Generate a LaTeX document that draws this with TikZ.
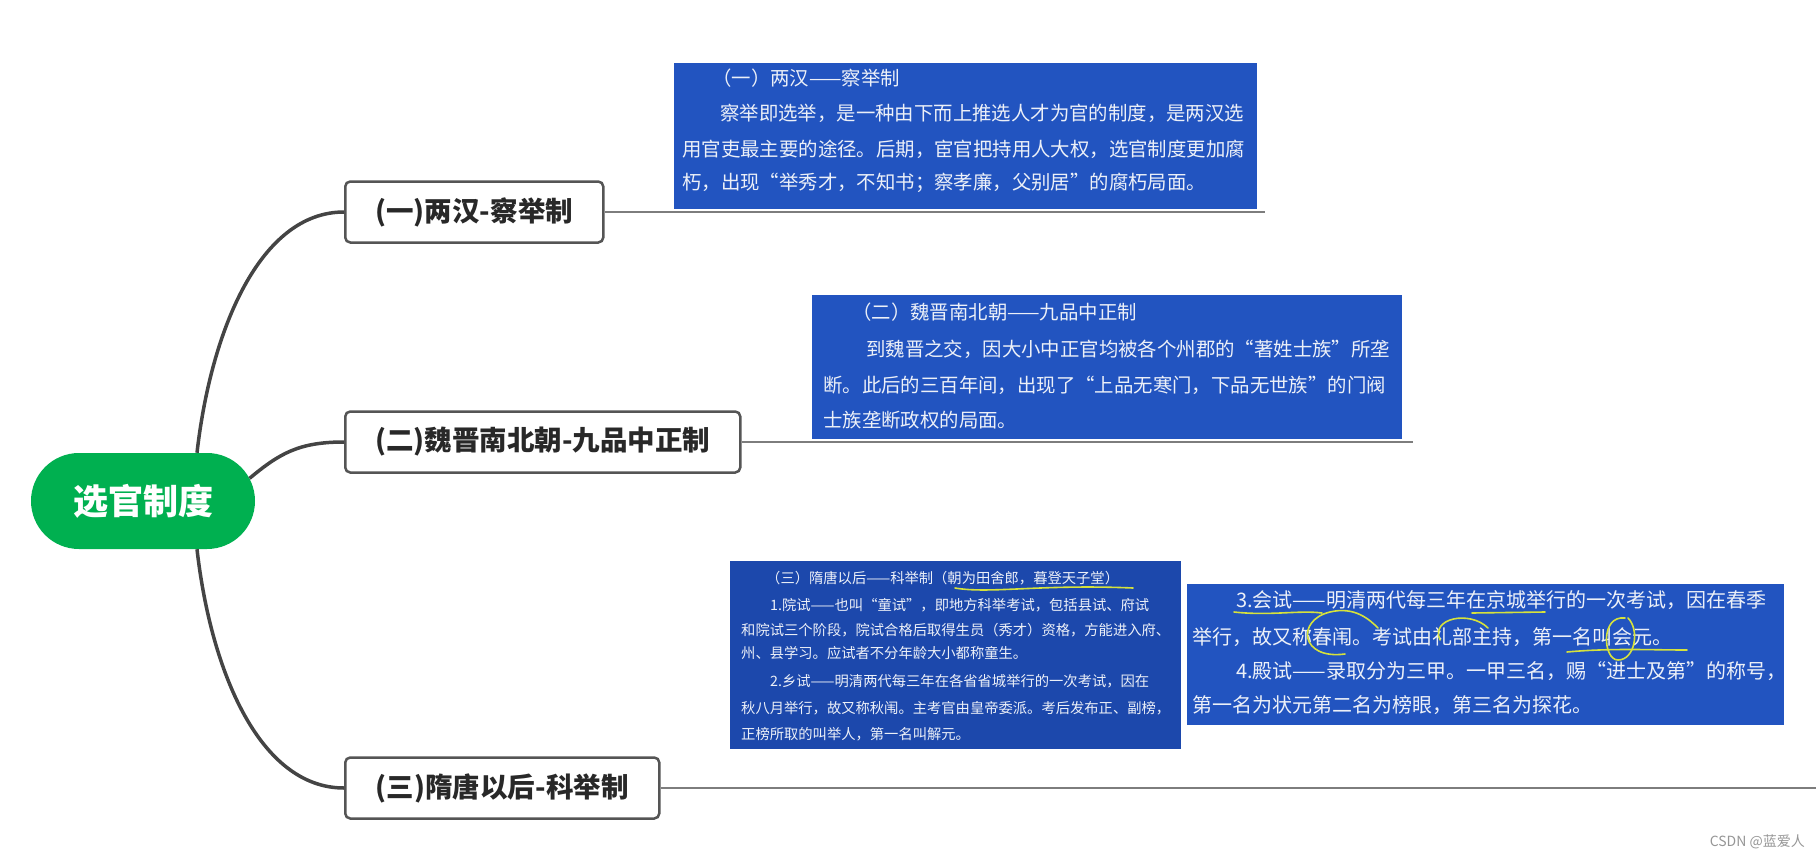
\documentclass[tikz,border=0pt]{standalone}
\usepackage{fontspec}
\setmainfont{Noto Sans CJK SC}
\usetikzlibrary{shapes.misc}

\definecolor{rootgreen}{RGB}{0,176,80}
\definecolor{linkgrey}{RGB}{68,68,68}
\definecolor{boxgrey}{RGB}{85,85,85}
\definecolor{textdark}{RGB}{40,40,40}
\definecolor{tailgrey}{RGB}{125,125,125}
\definecolor{shotblue}{RGB}{34,84,192}
\definecolor{shotdark}{RGB}{28,72,172}
\definecolor{shottext}{RGB}{236,240,248}
\definecolor{penyellow}{RGB}{214,226,60}
\definecolor{markgrey}{RGB}{150,150,150}

\tikzstyle{rootnode} = [
    rounded rectangle,
    fill=rootgreen,
    text=white,
    minimum width=224pt,
    minimum height=96pt,
    inner sep=0pt,
    font=\fontsize{35}{40}\selectfont\bfseries
]
\tikzstyle{topicbox} = [
    rectangle,
    rounded corners=5pt,
    draw=boxgrey,
    line width=2.5pt,
    fill=white,
    text=textdark,
    minimum height=61pt,
    inner sep=0pt,
    anchor=west,
    font=\fontsize{27.5}{32}\selectfont\bfseries
]
\tikzstyle{shot} = [
    rectangle,
    fill=shotblue,
    inner sep=0pt,
    anchor=north west
]
\tikzstyle{shotline} = [
    anchor=west,
    inner sep=0pt,
    text=shottext,
    font=\fontsize{19.4}{24}\selectfont
]
\tikzstyle{wideline} = [shotline, font=\fontsize{20}{24}\selectfont]
\tikzstyle{smallline} = [shotline, font=\fontsize{14.3}{18}\selectfont]
\tikzstyle{branch} = [line width=3.5pt, draw=linkgrey]
\tikzstyle{tail} = [line width=2pt, draw=tailgrey]
\tikzstyle{scribble} = [line width=1.6pt, draw=penyellow, line cap=round]

\begin{document}
\begin{tikzpicture}[x=1pt, y=-1pt]

\useasboundingbox (0,0) rectangle (1820,856);

\node (root) [rootnode] at (143,501) {选官制度};

\node (han) [topicbox, minimum width=258pt] at (344,212) {(一)两汉-察举制};
\node (wei) [topicbox, minimum width=395pt] at (344,442) {(二)魏晋南北朝-九品中正制};
\node (sui) [topicbox, minimum width=314pt] at (344,788) {(三)隋唐以后-科举制};

\draw [branch] ([xshift=54pt]root.north) .. controls +(14,-123) and +(-84,0) .. (han.west);
\draw [branch] (root.12) .. controls +(30,-25) and +(-45,0) .. (wei.west);
\draw [branch] ([xshift=54pt]root.south) .. controls +(14,123) and +(-84,0) .. (sui.west);

% lines running out under the screenshots
\coordinate (hanend) at (1265,212);
\coordinate (weiend) at (1413,442);
\coordinate (suiend) at (1816,788);
\draw [tail] (han.east) -- (hanend);
\draw [tail] (wei.east) -- (weiend);
\draw [tail] (sui.east) -- (suiend);

% screenshot 1
\node (shot1) [shot, minimum width=583pt, minimum height=146pt] at (674,63) {};
\node (han1) [shotline] at (712,78) {（一）两汉——察举制};
\node (han2) [shotline] at (720,113) {察举即选举，是一种由下而上推选人才为官的制度，是两汉选};
\node (han3) [shotline] at (682,149) {用官吏最主要的途径。后期，宦官把持用人大权，选官制度更加腐};
\node (han4) [shotline] at (682,183) {朽，出现“举秀才，不知书；察孝廉，父别居”的腐朽局面。};

% screenshot 2
\node (shot2) [shot, minimum width=590pt, minimum height=144pt] at (812,295) {};
\node (wei1) [shotline] at (852,312) {（二）魏晋南北朝——九品中正制};
\node (wei2) [shotline] at (866,349) {到魏晋之交，因大小中正官均被各个州郡的“著姓士族”所垄};
\node (wei3) [shotline] at (823,385) {断。此后的三百年间，出现了“上品无寒门，下品无世族”的门阀};
\node (wei4) [shotline] at (823,420) {士族垄断政权的局面。};

% screenshot 3
\node (shot3) [shot, fill=shotdark, minimum width=451pt, minimum height=188pt] at (730,561) {};
\node (sui1) [smallline] at (766,578) {（三）隋唐以后——科举制（朝为田舍郎，暮登天子堂）};
\node (sui2) [smallline] at (770,605) {1.院试——也叫“童试”，即地方科举考试，包括县试、府试};
\node (sui3) [smallline] at (741,630) {和院试三个阶段，院试合格后取得生员（秀才）资格，方能进入府、};
\node (sui4) [smallline] at (741,653) {州、县学习。应试者不分年龄大小都称童生。};
\node (sui5) [smallline] at (770,681) {2.乡试——明清两代每三年在各省省城举行的一次考试，因在};
\node (sui6) [smallline] at (741,708) {秋八月举行，故又称秋闱。主考官由皇帝委派。考后发布正、副榜，};
\node (sui7) [smallline] at (741,734) {正榜所取的叫举人，第一名叫解元。};
\draw [scribble] (955,588) .. controls (990,594) and (1040,584) .. (1133,588);

% screenshot 4
\node (shot4) [shot, minimum width=597pt, minimum height=141pt] at (1187,584) {};
\node (ke1) [wideline] at (1236,600) {3.会试——明清两代每三年在京城举行的一次考试，因在春季};
\node (ke2) [wideline] at (1192,637) {举行，故又称春闱。考试由礼部主持，第一名叫会元。};
\node (ke3) [wideline] at (1236,671) {4.殿试——录取分为三甲。一甲三名，赐“进士及第”的称号，};
\node (ke4) [wideline] at (1192,705) {第一名为状元第二名为榜眼，第三名为探花。};
\draw [scribble] (1234,612) .. controls (1270,616) and (1300,610) .. (1322,613);
\draw [scribble] (1472,613) -- (1545,612);
\draw [scribble] (1567,652) .. controls (1610,648) and (1650,650) .. (1687,650);
\draw [scribble] (1345,654) .. controls (1300,660) and (1296,620) .. (1330,612) .. controls (1355,606) and (1370,620) .. (1378,628);
\draw [scribble] (1440,640) .. controls (1430,618) and (1470,610) .. (1488,628);
\draw [scribble] (1625,618) .. controls (1600,615) and (1603,660) .. (1618,660) .. controls (1635,660) and (1640,630) .. (1628,618);

\node (mark) [anchor=east, text=markgrey, inner sep=0pt, font=\fontsize{14}{16}\selectfont] at (1805,842) {CSDN @蓝爱人};

\end{tikzpicture}
\end{document}
